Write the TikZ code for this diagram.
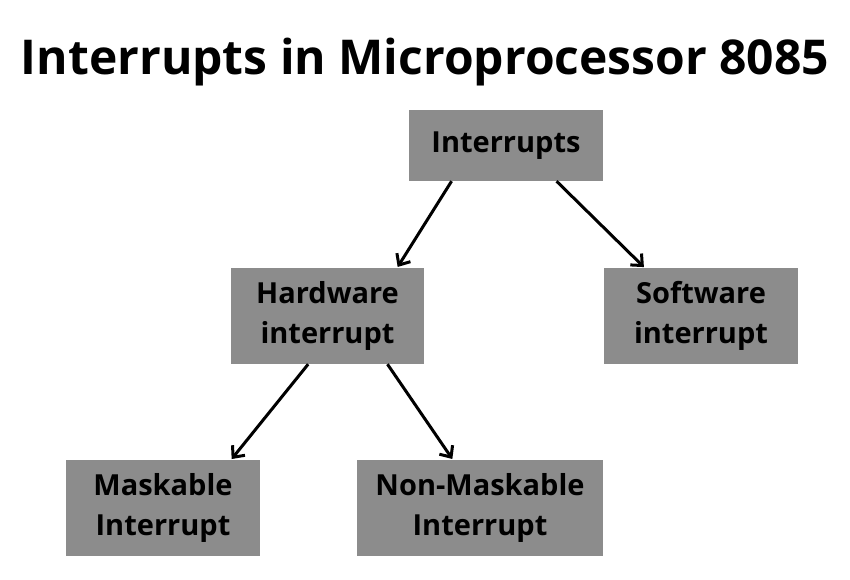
\documentclass[tikz,border=0pt]{standalone}
\usepackage{fontspec}
\setmainfont{Open Sans}
\usetikzlibrary{calc,arrows.meta}
\begin{document}
\begin{tikzpicture}[x=1pt,y=-1pt,
  box/.style={fill=black!45,draw=none,align=center,font=\fontsize{29}{40}\selectfont\bfseries,inner sep=0pt},
  arr/.style={-{Straight Barb[length=9pt,width=16pt,line width=3pt]},line width=3pt,shorten >=1pt}]
\useasboundingbox[fill=white] (0,0) rectangle (850,580);
\node[font=\fontsize{48}{56}\selectfont\bfseries] (title) at (425,62) {Interrupts in Microprocessor 8085};
\node[box,minimum width=194pt,minimum height=71pt] (int) at (506,145.5) {Interrupts};
\node[box,minimum width=193pt,minimum height=96pt] (hw) at (327.5,316) {Hardware\\interrupt};
\node[box,minimum width=194pt,minimum height=96pt] (sw) at (701,316) {Software\\interrupt};
\node[box,minimum width=194pt,minimum height=96pt] (mi) at (163,508) {Maskable\\Interrupt};
\node[box,minimum width=246pt,minimum height=96pt] (nmi) at (480,508) {Non-Maskable\\Interrupt};
\draw[arr] ($(int.south west)!0.22!(int.south east)$) -- ($(hw.north west)!0.86!(hw.north east)$);
\draw[arr] ($(int.south west)!0.76!(int.south east)$) -- ($(sw.north west)!0.21!(sw.north east)$);
\draw[arr] ($(hw.south west)!0.40!(hw.south east)$) -- ($(mi.north west)!0.85!(mi.north east)$);
\draw[arr] ($(hw.south west)!0.81!(hw.south east)$) -- ($(nmi.north west)!0.39!(nmi.north east)$);
\end{tikzpicture}
\end{document}
